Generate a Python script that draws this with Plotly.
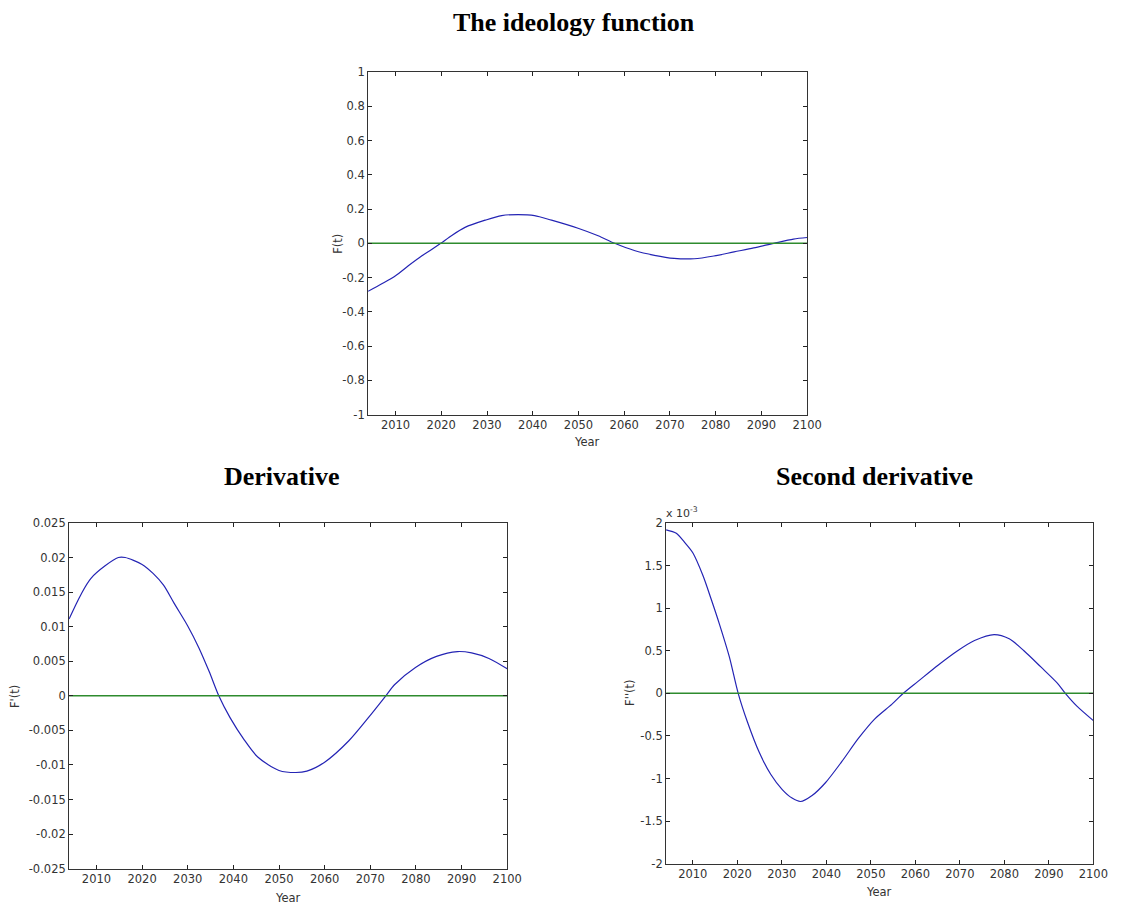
import plotly.graph_objects as go

# ---- data ----
years_f = [2004, 2007, 2010, 2012.8, 2015.7, 2017.9, 2019.9, 2022.3, 2025.2, 2029.6, 2033.2, 2036.8,
           2040.4, 2044.1, 2049.9, 2054.3, 2057.9, 2062.2, 2066.6, 2070.9, 2075.3, 2079.6, 2084,
           2088.3, 2092.7, 2097, 2100]
f_vals = [-0.28, -0.236, -0.189, -0.131, -0.074, -0.036, 0.0, 0.046, 0.093, 0.135, 0.162, 0.168,
          0.162, 0.135, 0.088, 0.044, 0.0, -0.042, -0.070, -0.088, -0.09, -0.074, -0.050,
          -0.027, 0.0, 0.025, 0.034]

years_d1 = [2004, 2008.8, 2014.8, 2016.3, 2020, 2022.4, 2024.7, 2027, 2030, 2032.4, 2034.7, 2036.8,
            2039.3, 2042.3, 2045.4, 2050, 2053.7, 2056.1, 2060, 2065.3, 2069.9, 2073.4, 2075.3,
            2079.9, 2084.5, 2089.1, 2092.2, 2096, 2100]
d1_vals = [0.0111, 0.017, 0.02, 0.02, 0.019, 0.0177, 0.016, 0.0134, 0.0101, 0.007, 0.0035, 0.0,
           -0.0032, -0.0063, -0.0089, -0.0108, -0.0111, -0.0109, -0.0096, -0.0065, -0.0029, 0.0,
           0.0016, 0.0041, 0.0057, 0.0064, 0.0062, 0.0054, 0.0039]

years_d2 = [2004, 2006.3, 2008.2, 2010, 2012.3, 2014.1, 2016, 2018.2, 2020.2, 2022.3, 2024.9, 2027.5,
            2030.1, 2032.3, 2034.2, 2036.8, 2039.8, 2043.5, 2047.2, 2050.9, 2054.7, 2057.3, 2060.6,
            2065.1, 2069.5, 2073.3, 2077.7, 2081.1, 2084.4, 2088.2, 2091.9, 2093.7, 2096.3, 2100]
d2_vals_e3 = [1.92, 1.88, 1.77, 1.65, 1.38, 1.11, 0.81, 0.43, 0.0, -0.34, -0.69, -0.95, -1.13, -1.23,
              -1.27, -1.20, -1.05, -0.80, -0.53, -0.30, -0.13, 0.0, 0.14, 0.33, 0.50, 0.62, 0.69,
              0.64, 0.50, 0.31, 0.12, 0.0, -0.15, -0.32]  # in units of 1e-3

x_ticks = [2010, 2020, 2030, 2040, 2050, 2060, 2070, 2080, 2090, 2100]
y1_ticks = [-1, -0.8, -0.6, -0.4, -0.2, 0, 0.2, 0.4, 0.6, 0.8, 1]
y1_text = ["-1", "-0.8", "-0.6", "-0.4", "-0.2", "0", "0.2", "0.4", "0.6", "0.8", "1"]
y2_ticks = [-0.025, -0.02, -0.015, -0.01, -0.005, 0, 0.005, 0.01, 0.015, 0.02, 0.025]
y2_text = ["-0.025", "-0.02", "-0.015", "-0.01", "-0.005", "0", "0.005", "0.01", "0.015", "0.02", "0.025"]
y3_ticks = [-2, -1.5, -1, -0.5, 0, 0.5, 1, 1.5, 2]
y3_text = ["-2", "-1.5", "-1", "-0.5", "0", "0.5", "1", "1.5", "2"]

titles = ["The ideology function", "Derivative", "Second derivative"]
ylabels = ["F(t)", "F'(t)", "F''(t)"]

BLUE = "#2424b4"
GREEN = "#2e8b2e"
TICKFONT = dict(family="DejaVu Sans", size=11.5, color="#333333")

fig = go.Figure()

series = [(years_f, f_vals, "x", "y"), (years_d1, d1_vals, "x2", "y2"), (years_d2, d2_vals_e3, "x3", "y3")]
for xs, ys, xa, ya in series:
    fig.add_trace(go.Scatter(x=xs, y=ys, mode="lines", line=dict(color=BLUE, width=1.2, shape="spline", smoothing=0.8),
                             xaxis=xa, yaxis=ya, hoverinfo="skip", showlegend=False))
    fig.add_trace(go.Scatter(x=[2004, 2100], y=[0, 0], mode="lines", line=dict(color=GREEN, width=1.5),
                             xaxis=xa, yaxis=ya, hoverinfo="skip", showlegend=False))

W, H = 1136, 914
boxes = [(373, 818, 66, 414), (70, 514, 524, 875), (675, 1108, 524, 870)]

def px(x):
    return x / W

def py(y):
    return 1 - y / H

xcommon = dict(range=[2004, 2100], tickvals=x_ticks, ticks="inside", ticklen=4, tickcolor="#222",
               showline=True, linecolor="#333", linewidth=1, mirror="ticks", showgrid=False,
               zeroline=False, tickfont=TICKFONT)
ycommon = dict(ticks="inside", ticklen=4, tickcolor="#222", showline=True, linecolor="#333",
               linewidth=1, mirror="ticks", showgrid=False, zeroline=False, tickfont=TICKFONT)

yspecs = [([-1, 1], y1_ticks, y1_text), ([-0.025, 0.025], y2_ticks, y2_text), ([-2, 2], y3_ticks, y3_text)]
layout = {}
for i, ((l, r, t, b), (rng, tv, tt)) in enumerate(zip(boxes, yspecs)):
    sfx = "" if i == 0 else str(i + 1)
    layout["xaxis" + sfx] = dict(xcommon, domain=[px(l), px(r)], anchor="y" + sfx)
    layout["yaxis" + sfx] = dict(ycommon, domain=[py(b), py(t)], range=rng, tickvals=tv, ticktext=tt,
                                 anchor="x" + sfx)

annotations = []
title_pos = [(582, 16), (286, 477), (886, 477)]
for (tx, ty), title in zip(title_pos, titles):
    annotations.append(dict(text="<b>" + title + "</b>", x=px(tx), y=py(ty), xref="paper", yref="paper",
                            showarrow=False, font=dict(family="Liberation Serif", size=26, color="black"),
                            xanchor="center", yanchor="middle"))
year_pos = [(595, 442), (292, 905), (891, 899)]
for (tx, ty) in year_pos:
    annotations.append(dict(text="Year", x=px(tx), y=py(ty), xref="paper", yref="paper", showarrow=False,
                            font=dict(family="DejaVu Sans", size=11.5, color="#333333"),
                            xanchor="center", yanchor="middle"))
ylab_pos = [(343, 240), (15, 700), (639, 697)]
for (tx, ty), lab in zip(ylab_pos, ylabels):
    annotations.append(dict(text=lab, x=px(tx), y=py(ty), xref="paper", yref="paper", showarrow=False,
                            textangle=-90, font=dict(family="DejaVu Sans", size=11.5, color="#333333"),
                            xanchor="center", yanchor="middle"))
annotations.append(dict(text="x 10<sup>-3</sup>", x=px(673), y=py(513), xref="paper", yref="paper",
                        showarrow=False, font=dict(family="DejaVu Sans", size=11, color="#333333"),
                        xanchor="left", yanchor="middle"))

fig.update_layout(width=W, height=H, margin=dict(l=0, r=0, t=0, b=0), paper_bgcolor="white",
                  plot_bgcolor="white", showlegend=False, annotations=annotations, **layout)

fig.write_html("out.html",
               post_script="document.body.style.margin='0';document.body.style.overflow='hidden';")
